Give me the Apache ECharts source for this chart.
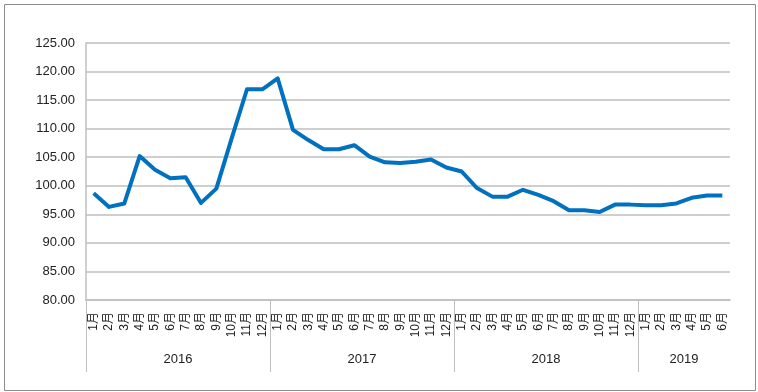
<!DOCTYPE html>
<html>
<head>
<meta charset="utf-8">
<script src="https://cdn.jsdelivr.net/npm/echarts@6/dist/echarts.min.js"></script>
<style>
html,body{margin:0;padding:0;background:#fff;}
#chart{width:758px;height:392px;}
</style>
</head>
<body>
<div id="chart"></div>
<script>
// Data
const years = ['2016', '2017', '2018', '2019'];
const monthsPerYear = [12, 12, 12, 6];
const values2016 = [98.7, 96.3, 96.9, 105.2, 102.8, 101.3, 101.5, 97.0, 99.5, 108.3, 116.9, 116.9];
const values2017 = [118.8, 109.8, 108.0, 106.4, 106.4, 107.1, 105.1, 104.1, 104.0, 104.2, 104.6, 103.2];
const values2018 = [102.5, 99.6, 98.1, 98.1, 99.3, 98.4, 97.3, 95.7, 95.7, 95.4, 96.7, 96.7];
const values2019 = [96.6, 96.6, 96.9, 97.9, 98.3, 98.3];
const yMin = 80, yMax = 125, yStep = 5;

const categories = [];
monthsPerYear.forEach((n, yi) => {
  for (let m = 1; m <= n; m++) categories.push(m + '月');
});
const values = [].concat(values2016, values2017, values2018, values2019);

// Year axis: boundary points (n+1 slots)
const yearSlots = [];
for (let i = 0; i <= categories.length; i++) yearSlots.push(String(i));
const yearBoundaries = [];
const yearCenters = {};
let acc = 0;
monthsPerYear.forEach((n, yi) => {
  yearBoundaries.push(acc);
  yearCenters[acc + n / 2] = years[yi];
  acc += n;
});

const chart = echarts.init(document.getElementById('chart'));
const gray = '#bfbfbf';
chart.setOption({
  animation: false,
  graphic: [{
    type: 'rect', left: 2, top: 2,
    shape: { width: 751, height: 386 },
    style: { fill: 'none', stroke: '#8c8c8c', lineWidth: 1 }
  }],
  grid: { left: 86, right: 28, top: 43, bottom: 92, containLabel: false },
  xAxis: [{
    type: 'category',
    data: categories,
    boundaryGap: true,
    position: 'bottom',
    offset: 0,
    axisLine: { onZero: false, lineStyle: { color: gray, width: 1.5 } },
    axisTick: { interval: 0, length: 37, lineStyle: { color: gray, width: 1 } },
    axisLabel: {
      interval: 0, rotate: 90, margin: 12,
      fontSize: 12, color: '#222',
      fontFamily: '"Liberation Sans", "Noto Sans CJK SC", sans-serif'
    },
    splitLine: { show: false }
  }, {
    type: 'category',
    data: yearSlots,
    boundaryGap: false,
    position: 'bottom',
    offset: 0,
    axisLine: { show: false, onZero: false },
    axisTick: {
      show: true,
      interval: (i) => yearBoundaries.indexOf(i) >= 0,
      length: 72,
      lineStyle: { color: gray, width: 1 }
    },
    axisLabel: {
      interval: (i) => yearCenters[i] !== undefined,
      formatter: (v, i) => yearCenters[i] || '',
      margin: 53,
      fontSize: 13, color: '#222',
      fontFamily: '"Liberation Sans", "Noto Sans", sans-serif'
    },
    splitLine: { show: false }
  }],
  yAxis: {
    type: 'value',
    min: yMin, max: yMax, interval: yStep,
    axisLine: { show: true, lineStyle: { color: gray, width: 1.5 } },
    axisTick: { show: false },
    axisLabel: {
      formatter: (v) => v.toFixed(2),
      margin: 11, fontSize: 13, color: '#222',
      fontFamily: '"Liberation Sans", "Noto Sans", sans-serif'
    },
    splitLine: { lineStyle: { color: gray, width: 1.5 } }
  },
  series: [{
    type: 'line',
    data: values,
    xAxisIndex: 0,
    symbol: 'none',
    lineStyle: { color: '#0070C0', width: 4, join: 'round' },
    itemStyle: { color: '#0070C0' }
  }]
});
</script>
</body>
</html>
